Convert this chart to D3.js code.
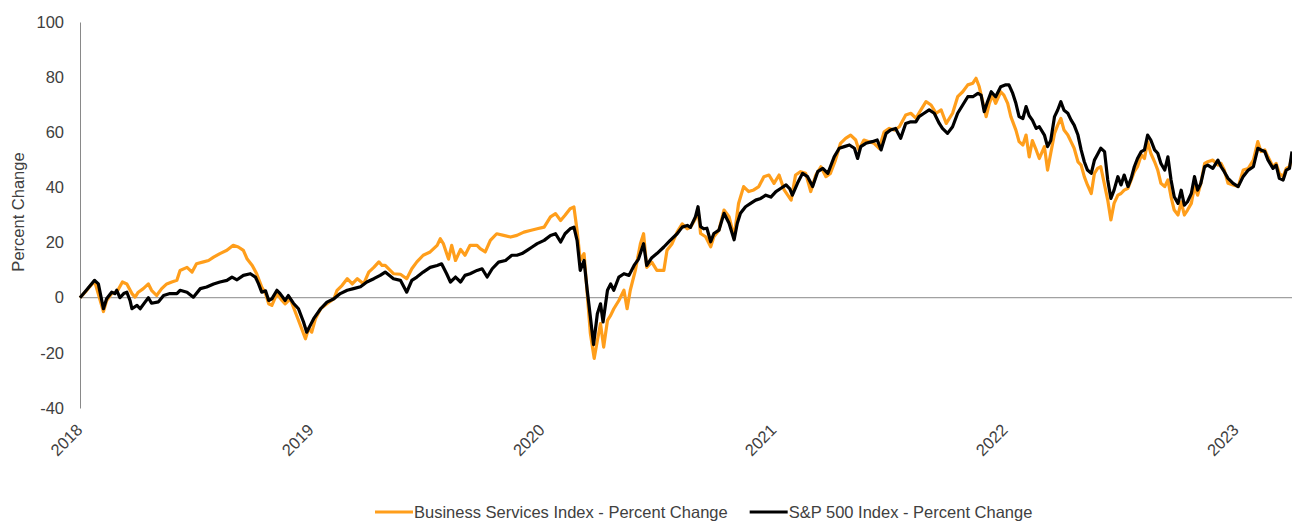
<!DOCTYPE html>
<html>
<head>
<meta charset="utf-8">
<script src="https://cdn.jsdelivr.net/npm/d3@7"></script>
<style>
    body { margin: 0; background: #ffffff; }
    #percent-change-chart text { font-family: Arial, "Liberation Sans", sans-serif; fill: #404040; }
</style>
</head>
<body>
<div id="percent-change-chart"></div>
<script>

// ---- data (percent change since Jan 2 2018) ----

var bizDates = [
    "2018-01-02","2018-01-12","2018-01-25","2018-02-08","2018-02-13","2018-02-21","2018-03-01","2018-03-10","2018-03-17","2018-03-25","2018-03-30",
    "2018-04-04","2018-04-12","2018-04-20","2018-04-25","2018-05-03","2018-05-11","2018-05-19","2018-05-27","2018-06-04","2018-06-09","2018-06-20","2018-06-28",
    "2018-07-05","2018-07-16","2018-07-24","2018-08-01","2018-08-11","2018-08-22","2018-09-01","2018-09-09","2018-09-17","2018-09-23",
    "2018-10-01","2018-10-08","2018-10-16","2018-10-22","2018-10-27","2018-11-01","2018-11-09","2018-11-17","2018-11-22","2018-11-30",
    "2018-12-08","2018-12-16","2018-12-24","2018-12-29",
    "2019-01-03","2019-01-09","2019-01-17","2019-01-27","2019-02-07","2019-02-12","2019-02-20","2019-02-28","2019-03-08","2019-03-16","2019-03-26",
    "2019-04-03","2019-04-11","2019-04-19","2019-04-24","2019-04-29","2019-05-12","2019-05-23","2019-06-02","2019-06-10","2019-06-18","2019-06-28",
    "2019-07-09","2019-07-20","2019-07-25","2019-07-30","2019-08-07","2019-08-12","2019-08-18","2019-08-26","2019-09-02","2019-09-10","2019-09-21","2019-09-26",
    "2019-10-04","2019-10-12","2019-10-22","2019-11-02","2019-11-13","2019-11-23","2019-12-04","2019-12-14","2019-12-25",
    "2020-01-05","2020-01-15","2020-01-23","2020-01-31","2020-02-07","2020-02-15","2020-02-21","2020-02-26","2020-03-02","2020-03-08","2020-03-13",
    "2020-03-18","2020-03-24","2020-03-29","2020-04-03","2020-04-08","2020-04-14","2020-04-19","2020-04-24","2020-05-02","2020-05-10","2020-05-15",
    "2020-05-20","2020-05-28","2020-06-05","2020-06-10","2020-06-15","2020-06-23","2020-07-01","2020-07-12","2020-07-17","2020-07-25","2020-08-02",
    "2020-08-10","2020-08-18","2020-08-23","2020-08-31","2020-09-04","2020-09-08","2020-09-16","2020-09-24","2020-09-29","2020-10-07","2020-10-15",
    "2020-10-23","2020-10-31","2020-11-07","2020-11-15","2020-11-23","2020-12-01","2020-12-09","2020-12-17","2020-12-25",
    "2021-01-02","2021-01-10","2021-01-18","2021-01-29","2021-02-05","2021-02-13","2021-02-21","2021-03-01","2021-03-09","2021-03-17","2021-03-25",
    "2021-04-01","2021-04-09","2021-04-17","2021-04-25","2021-05-03","2021-05-11","2021-05-16","2021-05-24","2021-06-01","2021-06-09","2021-06-17",
    "2021-06-25","2021-07-03","2021-07-11","2021-07-19","2021-07-29","2021-08-06","2021-08-14","2021-08-22","2021-08-30","2021-09-07","2021-09-15",
    "2021-09-23","2021-10-01","2021-10-11","2021-10-19","2021-10-27","2021-11-04","2021-11-12","2021-11-17","2021-11-22","2021-11-27","2021-12-03",
    "2021-12-08","2021-12-13","2021-12-18","2021-12-26","2021-12-31",
    "2022-01-06","2022-01-11","2022-01-19","2022-01-24","2022-01-30","2022-02-04","2022-02-09","2022-02-14","2022-02-20","2022-02-25","2022-03-05",
    "2022-03-10","2022-03-15","2022-03-21","2022-03-26","2022-03-31","2022-04-05","2022-04-11","2022-04-16","2022-04-21","2022-04-27","2022-05-02",
    "2022-05-07","2022-05-12","2022-05-18","2022-05-23","2022-05-28","2022-06-02","2022-06-08","2022-06-13","2022-06-18","2022-06-23","2022-06-29",
    "2022-07-04","2022-07-09","2022-07-15","2022-07-20","2022-07-25","2022-07-30","2022-08-05","2022-08-10","2022-08-15","2022-08-20","2022-08-26",
    "2022-08-31","2022-09-05","2022-09-11","2022-09-16","2022-09-21","2022-09-26","2022-10-02","2022-10-07","2022-10-12","2022-10-17","2022-10-23",
    "2022-10-28","2022-11-02","2022-11-07","2022-11-13","2022-11-18","2022-11-26","2022-12-04","2022-12-09","2022-12-14","2022-12-20","2022-12-28",
    "2023-01-05","2023-01-13","2023-01-21","2023-01-29","2023-02-05","2023-02-10","2023-02-16","2023-02-21","2023-03-01","2023-03-06","2023-03-11",
    "2023-03-17","2023-03-22","2023-03-27","2023-03-31"
];

var bizValues = [
    0, 2.5, 6, -5, -1, 1.5, 2, 5.7, 5, 1.5, 0.2,
    2, 3.3, 5, 2.7, 0.8, 3.3, 5, 5.7, 6.3, 9.9, 11, 9.3,
    12.3, 13, 13.5, 14.7, 16, 17.2, 19, 18.4, 17.2, 14,
    11.7, 8.7, 3.9, 1.5, -2.2, -2.8, 1.5, -1, -2.2, -0.4,
    -5.2, -10, -14.9, -11.2,
    -12.5, -7.5, -4, -2.2, -0.4, 2.7, 4.5, 6.9, 5, 6.9, 5,
    9.3, 11, 13, 11.7, 11.7, 8.7, 8.5, 6.9, 10.5, 13, 15.4,
    16.6, 19, 21.4, 19.5, 14, 19, 13.5, 17.5, 15.4, 19, 19, 17.8,
    16.6, 20.8, 23.2, 22.6, 22, 22.6, 23.8, 24.4, 25,
    25.6, 29.3, 30.5, 28, 29.9, 32.3, 32.9, 24.4, 13.5, 16, 1.5,
    -13, -22, -15.5, -9.4, -17.9, -8.2, -6.4, -4, -1, 2.7, -4,
    2.7, 9.9, 19.6, 23.2, 11, 12.9, 9.9, 9.9, 17.2, 19.6, 23.8,
    26.8, 25, 25.5, 28.7, 31.8, 23.3, 22.1, 18.5, 22.1, 24.5, 31.8,
    29.4, 22.1, 34.2, 40.3, 38.5, 39.1, 40.3, 43.9, 44.5,
    41.5, 44.5, 39.1, 35.4, 44.5, 45.7, 45.1, 38.5, 44.5, 47.5, 43.9,
    45.1, 49.9, 56, 57.8, 59, 57.2, 53.6, 57.2, 56.6, 56, 54.2,
    60.2, 61.4, 60.8, 62, 66.3, 66.9, 65.1, 68.1, 71.1, 69.9, 66.9,
    68.1, 63.2, 66.9, 72.9, 74.7, 77.2, 77.8, 79.6, 76.6, 71.7, 65.7,
    70.5, 73.5, 70.5, 74.7, 73.5,
    70.5, 65.7, 60.8, 56.6, 55.4, 59, 51.1, 57, 53.6, 50.5, 54.8,
    46.3, 52.4, 59.6, 62.6, 65, 60.8, 59, 56.6, 54.2, 49.3, 48.1,
    43.9, 40.9, 37.8, 45.1, 46.9, 47.5, 40.9, 35.4, 28.2, 34.2, 37.2,
    37.8, 39, 39.7, 42.7, 45.7, 47.5, 51.8, 50.5, 56.6, 52.4, 49.3,
    46.3, 41.5, 40.3, 42.7, 36.6, 31.8, 30, 34.8, 30, 31.8, 34.2,
    40.3, 37.2, 41.5, 48.7, 49.3, 49.9, 48.1, 48.7, 46.3, 41.5, 40.9,
    40.3, 46.3, 46.9, 49.9, 56.6, 53, 53.6, 51.1, 47.5, 48.7, 45.1,
    43.9, 46.9, 47.5, 51.1
];

var spxDates = [
    "2018-01-02","2018-01-12","2018-01-25","2018-01-31","2018-02-08","2018-02-13","2018-02-21","2018-02-26","2018-03-01","2018-03-06","2018-03-12",
    "2018-03-17","2018-03-22","2018-03-25","2018-04-02","2018-04-07","2018-04-15","2018-04-20","2018-04-25","2018-05-06","2018-05-14","2018-05-24",
    "2018-06-04","2018-06-09","2018-06-20","2018-06-30","2018-07-11","2018-07-21","2018-08-01","2018-08-11","2018-08-22","2018-08-30","2018-09-07",
    "2018-09-17","2018-09-28","2018-10-06","2018-10-11","2018-10-16","2018-10-22","2018-10-27","2018-11-01","2018-11-09","2018-11-14","2018-11-22",
    "2018-11-27","2018-12-05","2018-12-13","2018-12-21","2018-12-26",
    "2019-01-02","2019-01-06","2019-01-17","2019-01-27","2019-02-07","2019-02-17","2019-02-28","2019-03-10","2019-03-21","2019-03-31","2019-04-11",
    "2019-04-21","2019-04-29","2019-05-12","2019-05-23","2019-06-02","2019-06-10","2019-06-18","2019-06-28","2019-07-09","2019-07-20","2019-07-27",
    "2019-08-04","2019-08-10","2019-08-18","2019-08-26","2019-09-02","2019-09-10","2019-09-21","2019-09-29","2019-10-07","2019-10-15","2019-10-25",
    "2019-11-05","2019-11-15","2019-11-23","2019-12-01","2019-12-09","2019-12-17","2019-12-25",
    "2020-01-05","2020-01-15","2020-01-23","2020-01-31","2020-02-07","2020-02-15","2020-02-21","2020-02-26","2020-03-02","2020-03-08","2020-03-13",
    "2020-03-18","2020-03-23","2020-03-29","2020-04-03","2020-04-07","2020-04-14","2020-04-19","2020-04-24","2020-05-02","2020-05-10","2020-05-18",
    "2020-05-26","2020-06-02","2020-06-10","2020-06-15","2020-06-23","2020-07-01","2020-07-12","2020-07-22","2020-08-02","2020-08-10","2020-08-18",
    "2020-08-23","2020-08-31","2020-09-04","2020-09-08","2020-09-13","2020-09-18","2020-09-24","2020-09-29","2020-10-07","2020-10-15","2020-10-23",
    "2020-10-31","2020-11-05","2020-11-10","2020-11-18","2020-11-26","2020-12-04","2020-12-12","2020-12-20","2020-12-28",
    "2021-01-05","2021-01-13","2021-01-21","2021-01-27","2021-01-31","2021-02-08","2021-02-16","2021-02-24","2021-03-04","2021-03-12","2021-03-20",
    "2021-03-28","2021-04-01","2021-04-07","2021-04-15","2021-04-23","2021-05-01","2021-05-09","2021-05-14","2021-05-19","2021-05-27","2021-06-06",
    "2021-06-14","2021-06-20","2021-06-28","2021-07-05","2021-07-13","2021-07-21","2021-07-29","2021-08-06","2021-08-14","2021-08-19","2021-08-27",
    "2021-09-04","2021-09-12","2021-09-20","2021-09-25","2021-10-03","2021-10-11","2021-10-19","2021-10-27","2021-11-04","2021-11-12","2021-11-20",
    "2021-11-25","2021-11-30","2021-12-05","2021-12-11","2021-12-18","2021-12-26",
    "2022-01-03","2022-01-08","2022-01-14","2022-01-19","2022-01-24","2022-01-30","2022-02-04","2022-02-09","2022-02-14","2022-02-20","2022-02-25",
    "2022-03-05","2022-03-10","2022-03-15","2022-03-21","2022-03-26","2022-03-31","2022-04-05","2022-04-11","2022-04-16","2022-04-21","2022-04-27",
    "2022-05-02","2022-05-07","2022-05-12","2022-05-18","2022-05-23","2022-05-28","2022-06-02","2022-06-08","2022-06-13","2022-06-18","2022-06-23",
    "2022-06-29","2022-07-04","2022-07-09","2022-07-15","2022-07-20","2022-07-25","2022-07-30","2022-08-05","2022-08-10","2022-08-15","2022-08-20",
    "2022-08-26","2022-08-31","2022-09-05","2022-09-11","2022-09-16","2022-09-21","2022-09-26","2022-10-02","2022-10-07","2022-10-12","2022-10-17",
    "2022-10-23","2022-10-28","2022-11-02","2022-11-07","2022-11-13","2022-11-18","2022-11-26","2022-12-04","2022-12-09","2022-12-14","2022-12-20",
    "2022-12-28",
    "2023-01-05","2023-01-13","2023-01-21","2023-01-29","2023-02-05","2023-02-10","2023-02-16","2023-02-21","2023-03-01","2023-03-06","2023-03-11",
    "2023-03-17","2023-03-22","2023-03-27","2023-03-31"
];

var spxValues = [
    0, 2.7, 6.3, 5, -4, -0.4, 2, 1.5, 2.7, 0, 1.5,
    2, -1, -4, -2.8, -4, -1.5, 0, -2, -1.5, 0.8, 1.5,
    1.5, 2.7, 2, 0.2, 3.3, 3.9, 5, 5.7, 6.3, 7.5, 6.5,
    8.1, 8.7, 7.5, 5, 2, 2.5, -1, -0.4, 2.7, 1.5, -1,
    0.8, -2, -4, -8.8, -12.5,
    -9.4, -7.6, -4, -1.6, -0.4, 1.5, 2.7, 3.3, 4, 5.7, 6.9,
    8.1, 9.3, 6.9, 6.3, 2, 6.3, 7.5, 9.3, 11, 11.7, 12.3,
    8.7, 5.7, 7.5, 5.7, 8.1, 8.7, 9.9, 10.5, 7.5, 10.5, 12.9,
    13.5, 15.4, 15.4, 16, 17.2, 18.4, 19.6,
    20.8, 22.6, 23.2, 20.2, 23.2, 25, 25.6, 20.8, 9.9, 13.5, 2.7,
    -7, -17, -5.8, -2.2, -8.8, 2.7, 5, 2.7, 7.5, 8.7, 8.1,
    11.7, 14, 19.6, 11.7, 14.5, 16, 18.4, 20.8, 23.2, 25.6, 26.2,
    25.5, 29.4, 33, 25.8, 25, 25.2, 20.3, 23.3, 24.5, 30.6, 27,
    21, 27, 30.6, 33, 34.2, 35.4, 36, 37.2, 36.5,
    38.5, 39.7, 40.9, 39.5, 37.2, 41.5, 45.1, 43.9, 40.3, 45.7, 46.9,
    45.1, 47.5, 51.1, 54.2, 54.8, 55.4, 54.2, 50.5, 54.8, 56, 56.6,
    57.2, 53.6, 59.6, 60.8, 61.4, 57.8, 63.2, 63.8, 63.8, 65.7, 66.9,
    68.1, 66.9, 63.2, 61.4, 59.6, 62, 66.9, 69.9, 72.9, 72.9, 74.1,
    73.5, 67.5, 71, 74.7, 72.9, 76.5,
    77.2, 77.2, 74.1, 70.5, 65.7, 65, 69.3, 66, 64.4, 61.4, 62,
    59, 54.8, 57, 65.7, 68.1, 71.1, 68, 66.9, 64.5, 62.6, 59,
    53.6, 49.3, 46.3, 45.1, 49.9, 52, 54.2, 53, 42.7, 36, 39,
    43.9, 40.9, 44.5, 40.3, 43.3, 47.5, 50.5, 53, 53.6, 59, 57.2,
    53.6, 52.4, 48.7, 46.3, 51.1, 42.7, 36.6, 34.2, 39, 33.6, 34.8,
    37.8, 43.9, 39, 41.5, 47.5, 48.1, 46.9, 49.9, 47.5, 45.7, 43.3,
    41.5,
    40.3, 44, 46.3, 47.5, 54.2, 53.6, 53, 50, 46.9, 48.1, 43.3,
    42.7, 46.3, 46.9, 53
];

var yTicks = [-40, -20, 0, 20, 40, 60, 80, 100];
var yearTicks = ["2018-01-02", "2019-01-02", "2020-01-02", "2021-01-02", "2022-01-02", "2023-01-02"];
var seriesNames = ["Business Services Index - Percent Change", "S&P 500 Index - Percent Change"];
var seriesColors = ["#FF9E1B", "#000000"];


/*
 * PercentChangeChart - Object constructor function
 * @param _parentElement    -- the HTML element in which to draw the visualization
 */

PercentChangeChart = function(_parentElement) {
    this.parentElement = _parentElement;
    this.initVis();
};

PercentChangeChart.prototype.initVis = function() {

    var vis = this;

    vis.margin = {top: 22, right: 0, bottom: 113, left: 80};

    vis.width = 1292 - vis.margin.left - vis.margin.right;
    vis.height = 521 - vis.margin.top - vis.margin.bottom;

    vis.svgRoot = d3.select("#" + vis.parentElement).append("svg")
        .attr("width", 1292)
        .attr("height", 521);

    vis.svg = vis.svgRoot.append("g")
        .attr("transform", "translate(" + vis.margin.left + "," + vis.margin.top + ")");

    vis.parseDate = d3.timeParse("%Y-%m-%d");

    //-----set scales and axes----------
    vis.x = d3.scaleTime()
        .domain([vis.parseDate("2018-01-02"), vis.parseDate("2023-03-31")])
        .range([0, vis.width]);

    vis.y = d3.scaleLinear()
        .domain([-40, 100])
        .range([vis.height, 0]);

    //plain hyphen for negatives, like the original
    vis.yAxis = d3.axisLeft(vis.y)
        .tickValues(yTicks)
        .tickFormat(function(d) { return String(d); })
        .tickSize(0)
        .tickPadding(16);

    vis.xAxis = d3.axisBottom(vis.x)
        .tickValues(yearTicks.map(vis.parseDate))
        .tickFormat(d3.timeFormat("%Y"))
        .tickSize(0);

    vis.wrangleData();
};

PercentChangeChart.prototype.wrangleData = function() {

    var vis = this;

    //pair dates with values for each series
    function zipSeries(dates, values) {
        return dates.map(function(d, i) {
            return {date: vis.parseDate(d), value: values[i]};
        });
    }

    vis.displayData = [
        {name: seriesNames[0], color: seriesColors[0], values: zipSeries(bizDates, bizValues)},
        {name: seriesNames[1], color: seriesColors[1], values: zipSeries(spxDates, spxValues)}
    ];

    vis.updateVis();
};

PercentChangeChart.prototype.updateVis = function() {

    var vis = this;

    // y axis (line + labels)
    var yG = vis.svg.append("g")
        .attr("class", "y-axis axis")
        .call(vis.yAxis);
    yG.select(".domain").attr("stroke", "#898989").attr("stroke-width", 1);
    yG.selectAll("text").style("font-size", "16.5px");

    // x axis labels only, rotated
    var xG = vis.svg.append("g")
        .attr("class", "x-axis axis")
        .attr("transform", "translate(0," + vis.height + ")")
        .call(vis.xAxis);
    xG.select(".domain").remove();
    xG.selectAll("text")
        .attr("x", 0)
        .attr("y", 0)
        .attr("dy", "0.35em")
        .attr("transform", "translate(-1,19) rotate(-45)")
        .style("text-anchor", "end")
        .style("font-size", "16.5px");

    // zero line
    vis.svg.append("line")
        .attr("x1", 0)
        .attr("x2", vis.width)
        .attr("y1", vis.y(0))
        .attr("y2", vis.y(0))
        .attr("stroke", "#898989")
        .attr("stroke-width", 1);

    // y axis title
    vis.svg.append("text")
        .attr("class", "y label")
        .attr("text-anchor", "middle")
        .attr("transform", "translate(" + (18 - vis.margin.left) + "," + (vis.height / 2 - 3) + ") rotate(-90)")
        .attr("dy", "0.35em")
        .style("font-size", "16.5px")
        .text("Percent Change");

    //----generate lines------
    var line = d3.line()
        .x(function(d) { return vis.x(d.date); })
        .y(function(d) { return vis.y(d.value); });

    vis.svg.append("g")
        .attr("class", "lines")
        .selectAll("path")
        .data(vis.displayData)
        .enter()
        .append("path")
        .attr("d", function(d) { return line(d.values); })
        .attr("fill", "none")
        .attr("stroke", function(d) { return d.color; })
        .attr("stroke-width", 3.2)
        .attr("stroke-linejoin", "round");

    //----legend------
    var legend = vis.svgRoot.append("g")
        .attr("class", "legend")
        .attr("transform", "translate(0,512)");

    var xPos = 375;
    vis.displayData.forEach(function(s) {
        var item = legend.append("g").attr("transform", "translate(" + xPos + ",0)");
        item.append("line")
            .attr("x1", 0)
            .attr("x2", 38)
            .attr("stroke", s.color)
            .attr("stroke-width", 3);
        var t = item.append("text")
            .attr("x", 39)
            .attr("dy", "0.35em")
            .style("font-size", "16.5px")
            .text(s.name);
        xPos += 39 + t.node().getComputedTextLength() + 22;
    });
};

new PercentChangeChart("percent-change-chart");

</script>
</body>
</html>
